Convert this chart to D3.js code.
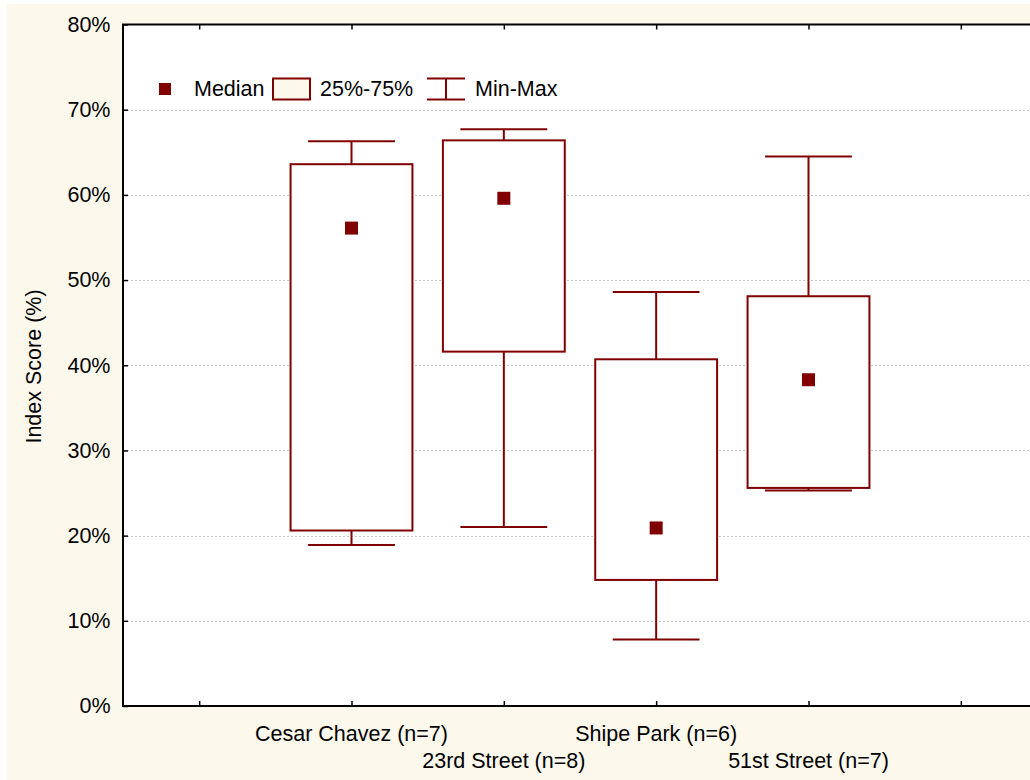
<!DOCTYPE html>
<html><head><meta charset="utf-8">
<script src="https://cdn.jsdelivr.net/npm/d3@7"></script>
<style>
body{margin:0;background:#fff;}
svg text{font-family:"Liberation Sans",Arial,sans-serif;}
</style></head>
<body>
<svg id="c" width="1030" height="780"></svg>
<script>
const categories = ["Cesar Chavez (n=7)", "23rd Street (n=8)", "Shipe Park (n=6)", "51st Street (n=7)"];
const minVals    = [18.9, 21.0, 7.8, 25.3];
const q1Vals     = [20.6, 41.6, 14.8, 25.6];
const medianVals = [56.1, 59.6, 20.9, 38.3];
const q3Vals     = [63.6, 66.4, 40.7, 48.1];
const maxVals    = [66.3, 67.7, 48.6, 64.5];
const yTicks = [0,10,20,30,40,50,60,70,80];
const legendLabels = ["Median", "25%-75%", "Min-Max"];

const svg = d3.select("#c");
const red = "#800000";
const cream = "#fdf8ec";
const FS = 21.5;

svg.append("rect").attr("x",7).attr("y",4).attr("width",1030).attr("height",776).attr("fill",cream);

const L=123, T=24.5, B=706, R=1037;
const slots = ["_s0", ...categories, "_s5"];
const x = d3.scalePoint().domain(slots).range([L,R]).padding(0.5);
const y = d3.scaleLinear().domain([0,80]).range([B,T]);
const step = x.step();

svg.append("rect").attr("x",L).attr("y",T).attr("width",R-L).attr("height",B-T).attr("fill","#fff");

// gridlines
svg.append("g").selectAll("line").data(yTicks.filter(d=>d>0&&d<80)).join("line")
  .attr("x1",L).attr("x2",R).attr("y1",d=>Math.round(y(d))+0.5).attr("y2",d=>Math.round(y(d))+0.5)
  .attr("stroke","#c8c8c8").attr("stroke-width",1).attr("stroke-dasharray","2,2");

// y axis
const yAxis = d3.axisLeft(y).tickValues(yTicks).tickFormat(d=>d+"%").tickSize(-5).tickPadding(12.5);
const gy = svg.append("g").attr("transform",`translate(${L},0)`).call(yAxis);
gy.select(".domain").remove();
gy.selectAll("line").attr("stroke","#000").attr("stroke-width",1.5);
gy.selectAll("text").attr("font-size",FS).attr("fill","#000").attr("font-family","Liberation Sans, Arial, sans-serif");

// x axis ticks bottom & top
const xAxisB = d3.axisBottom(x).tickSize(-5).tickFormat("");
const gxb = svg.append("g").attr("transform",`translate(0,${B})`).call(xAxisB);
gxb.select(".domain").remove();
gxb.selectAll("line").attr("stroke","#000").attr("stroke-width",1.5);
const xAxisT = d3.axisTop(x).tickSize(-5).tickFormat("");
const gxt = svg.append("g").attr("transform",`translate(0,${T})`).call(xAxisT);
gxt.select(".domain").remove();
gxt.selectAll("line").attr("stroke","#000").attr("stroke-width",1.5);

// category labels staggered
svg.append("g").selectAll("text").data(categories).join("text")
  .attr("x",d=>x(d)).attr("y",(d,i)=> i%2===0 ? 741 : 768)
  .attr("text-anchor","middle").attr("font-size",FS).attr("fill","#000").text(d=>d);

// y title
svg.append("text").attr("transform",`translate(41,${366.5}) rotate(-90)`)
  .attr("text-anchor","middle").attr("font-size",FS).attr("fill","#000").text("Index Score (%)");

// boxes
const boxW = step*0.8, capW = step*0.57;
const g = svg.append("g");
categories.forEach((c,i)=>{
  const cx = x(c);
  g.append("line").attr("x1",cx).attr("x2",cx).attr("y1",y(q3Vals[i])).attr("y2",y(maxVals[i])).attr("stroke",red).attr("stroke-width",2);
  g.append("line").attr("x1",cx-capW/2).attr("x2",cx+capW/2).attr("y1",y(maxVals[i])).attr("y2",y(maxVals[i])).attr("stroke",red).attr("stroke-width",2);
  g.append("line").attr("x1",cx).attr("x2",cx).attr("y1",y(q1Vals[i])).attr("y2",y(minVals[i])).attr("stroke",red).attr("stroke-width",2);
  g.append("line").attr("x1",cx-capW/2).attr("x2",cx+capW/2).attr("y1",y(minVals[i])).attr("y2",y(minVals[i])).attr("stroke",red).attr("stroke-width",2);
  g.append("rect").attr("x",cx-boxW/2).attr("y",y(q3Vals[i])).attr("width",boxW).attr("height",y(q1Vals[i])-y(q3Vals[i]))
    .attr("fill","#fff").attr("stroke",red).attr("stroke-width",2);
  g.append("rect").attr("x",cx-6.5).attr("y",y(medianVals[i])-6.5).attr("width",13).attr("height",13).attr("fill",red);
});

// legend
const lg = svg.append("g");
lg.append("rect").attr("x",159).attr("y",83).attr("width",12).attr("height",12).attr("fill",red);
lg.append("text").attr("x",194).attr("y",96).attr("font-size",FS).text(legendLabels[0]);
lg.append("rect").attr("x",273).attr("y",78.5).attr("width",37).attr("height",21).attr("fill",cream).attr("stroke",red).attr("stroke-width",2);
lg.append("text").attr("x",320).attr("y",96).attr("font-size",FS).text(legendLabels[1]);
lg.append("line").attr("x1",427).attr("x2",465).attr("y1",78.5).attr("y2",78.5).attr("stroke",red).attr("stroke-width",2);
lg.append("line").attr("x1",427).attr("x2",465).attr("y1",99.5).attr("y2",99.5).attr("stroke",red).attr("stroke-width",2);
lg.append("line").attr("x1",446).attr("x2",446).attr("y1",78.5).attr("y2",99.5).attr("stroke",red).attr("stroke-width",2);
lg.append("text").attr("x",475).attr("y",96).attr("font-size",FS).text(legendLabels[2]);

// frame
svg.append("rect").attr("x",L).attr("y",T).attr("width",R-L).attr("height",B-T).attr("fill","none").attr("stroke","#000").attr("stroke-width",2);
</script>
</body></html>
